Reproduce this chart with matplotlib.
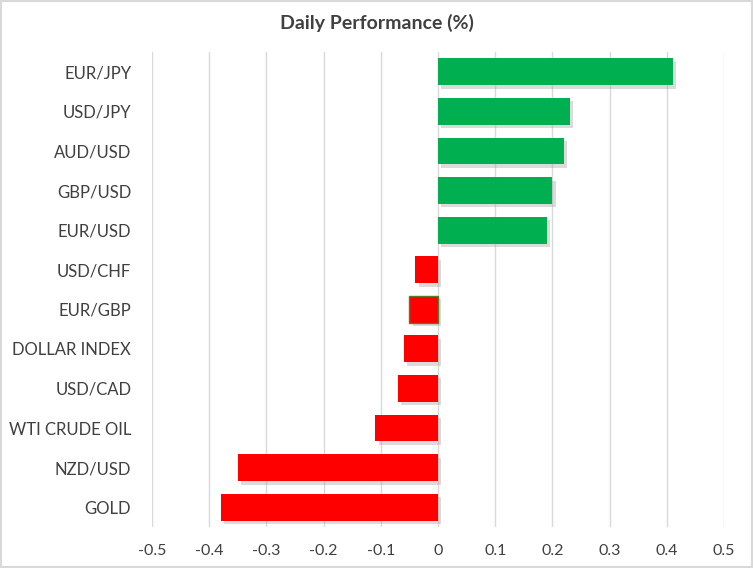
import matplotlib
matplotlib.use("Agg")
import matplotlib.pyplot as plt
import matplotlib.patheffects as pe

categories = ["EUR/JPY", "USD/JPY", "AUD/USD", "GBP/USD", "EUR/USD", "USD/CHF",
              "EUR/GBP", "DOLLAR INDEX", "USD/CAD", "WTI CRUDE OIL", "NZD/USD", "GOLD"]
values = [0.41, 0.23, 0.22, 0.20, 0.19, -0.04, -0.05, -0.06, -0.07, -0.11, -0.35, -0.38]
xticks = [-0.5, -0.4, -0.3, -0.2, -0.1, 0, 0.1, 0.2, 0.3, 0.4, 0.5]
xticklabels = ["-0.5", "-0.4", "-0.3", "-0.2", "-0.1", "0", "0.1", "0.2", "0.3", "0.4", "0.5"]

plt.rcParams['font.family'] = ['Lato', 'DejaVu Sans']

fig = plt.figure(figsize=(7.53, 5.68), dpi=100)
ax = fig.add_axes([152/753, 1-527/568, (724-152)/753, (527-52)/568])

colors = ["#00B050" if v >= 0 else "#FF0000" for v in values]
ypos = list(range(len(categories)))
bars = ax.barh(ypos, values, height=0.68, color=colors, zorder=3)
for b in bars:
    b.set_path_effects([pe.SimplePatchShadow(offset=(2.5, -2.5), shadow_rgbFace="#9a9a9a", alpha=0.35), pe.Normal()])
bars[6].set_edgecolor("#5a7a2a")
bars[6].set_linewidth(1.0)

ax.set_ylim(len(categories) - 0.5, -0.5)
ax.set_xlim(-0.5, 0.5)
ax.set_yticks(ypos)
ax.set_yticklabels(categories, fontsize=12, color="#404040")
ax.set_xticks(xticks)
ax.set_xticklabels(xticklabels, fontsize=11.5, color="#404040")
ax.tick_params(axis='both', length=0)
ax.tick_params(axis='y', pad=15)
ax.tick_params(axis='x', pad=12)
ax.grid(axis='x', color="#d9d9d9", linewidth=1, zorder=0)
for s in ax.spines.values():
    s.set_visible(False)

fig.text(0.5, 1-23/568, "Daily Performance (%)", ha='center', va='center',
         fontsize=14, fontweight='bold', color="#404040")

border = plt.Rectangle((0.001, 0.001), 0.998, 0.998, transform=fig.transFigure,
                       fill=False, edgecolor="#d9d9d9", linewidth=1.5)
fig.patches.append(border)

fig.savefig("out.png", dpi=100)
